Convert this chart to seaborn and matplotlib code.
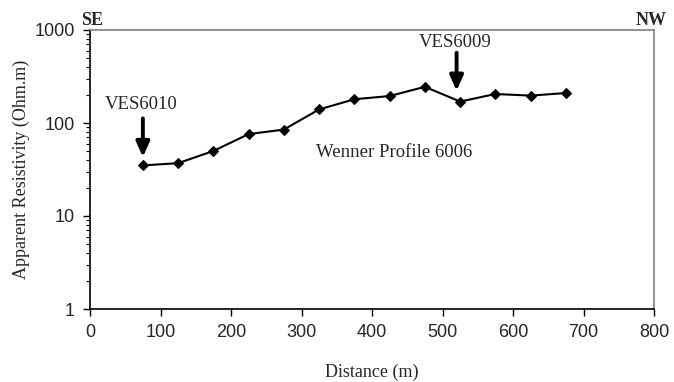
import matplotlib
matplotlib.use("Agg")
import matplotlib.pyplot as plt
import seaborn as sns
import pandas as pd
from matplotlib.ticker import LogLocator, FixedLocator, NullFormatter

distance = [75, 125, 175, 225, 275, 325, 375, 425, 475, 525, 575, 625, 675]
resistivity = [35, 37, 50, 76, 85, 140, 180, 195, 245, 170, 205, 197, 210]
x_ticks = [0, 100, 200, 300, 400, 500, 600, 700, 800]
y_ticks = [1, 10, 100, 1000]
y_tick_labels = ["1", "10", "100", "1000"]

sns.set_style("white")
df = pd.DataFrame({"Distance": distance, "Resistivity": resistivity})

fig = plt.figure(figsize=(6.74, 3.82), dpi=100)
ax = fig.add_axes([90/674, 1-309/382, (654-90)/674, (309-30)/382])

sns.lineplot(data=df, x="Distance", y="Resistivity", ax=ax, color="black",
             marker="D", markersize=5.5, linewidth=1.5, markeredgecolor="black")

ax.set_yscale("log")
ax.set_xlim(0, 800)
ax.set_ylim(1, 1000)
ax.xaxis.set_major_locator(FixedLocator(x_ticks))
ax.yaxis.set_major_locator(FixedLocator(y_ticks))
ax.set_yticklabels(y_tick_labels)
ax.yaxis.set_minor_locator(LogLocator(base=10, subs=range(2, 10)))
ax.yaxis.set_minor_formatter(NullFormatter())

sans = ["Liberation Sans", "DejaVu Sans"]
serif = ["Liberation Serif", "DejaVu Serif"]
for lab in ax.get_xticklabels() + ax.get_yticklabels():
    lab.set_family(sans)
    lab.set_fontsize(13)

ax.tick_params(axis="both", which="major", direction="out", length=5, width=1, color="black", pad=6)
ax.tick_params(axis="y", which="minor", direction="out", length=3, width=0.8, color="black", left=True)
ax.tick_params(axis="x", which="both", bottom=True)
ax.tick_params(axis="y", which="major", left=True)

for s in ["left", "bottom"]:
    ax.spines[s].set_color("black")
    ax.spines[s].set_linewidth(1.2)
for s in ["top", "right"]:
    ax.spines[s].set_color("#808080")
    ax.spines[s].set_linewidth(1.2)

ax.set_xlabel("Distance (m)", family=serif, fontsize=13, labelpad=16)
ax.set_ylabel("Apparent Resistivity (Ohm.m)", family=serif, fontsize=13, labelpad=3)

arrow_style = dict(arrowstyle="-|>,head_length=0.9,head_width=0.4", color="black",
                   lw=2.8, shrinkA=0, shrinkB=0)
ax.annotate("", xy=(75, 43), xytext=(75, 112), arrowprops=arrow_style)
ax.text(72, 160, "VES6010", family=serif, fontsize=13.5, ha="center", va="center")
ax.annotate("", xy=(520, 222), xytext=(520, 570), arrowprops=arrow_style)
ax.text(518, 725, "VES6009", family=serif, fontsize=13.5, ha="center", va="center")
ax.text(321, 47.6, "Wenner Profile 6006", family=serif, fontsize=13.5, ha="left", va="center")

fig.text(81/674, 1-29/382, "SE", family=serif, fontsize=13, fontweight="bold", ha="left", va="bottom")
fig.text(667/674, 1-29/382, "NW", family=serif, fontsize=13, fontweight="bold", ha="right", va="bottom")

fig.savefig("out.png", dpi=100)
